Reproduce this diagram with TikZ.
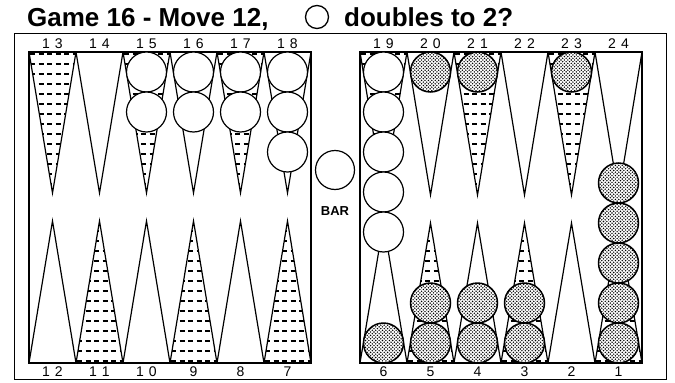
\documentclass[tikz,border=0pt]{standalone}
\usepackage{fontspec}
\setmainfont{Liberation Sans}
\usetikzlibrary{patterns}
\pgfdeclarepatternformonly{stip}{\pgfqpoint{-1pt}{-1pt}}{\pgfqpoint{4.4pt}{4.4pt}}{\pgfqpoint{3.4pt}{3.4pt}}{%
  \pgfpathcircle{\pgfqpoint{0pt}{0pt}}{0.8pt}%
  \pgfpathcircle{\pgfqpoint{1.7pt}{1.7pt}}{0.8pt}%
  \pgfusepath{fill}}
\tikzset{
  pt/.style={line width=1.2pt, line join=miter},
  stripe/.style={line width=1.7pt, dash pattern=on 5pt off 3.5pt, dash phase=-1pt},
  board/.style={line width=1.5pt},
  frame/.style={line width=0.9pt},
  wchk/.style={circle, draw, line width=1.2pt, fill=white, minimum size=40pt, inner sep=0pt},
  bchk/.style={circle, draw, line width=1.5pt, minimum size=40pt, inner sep=0pt,
    preaction={fill=white}, pattern=stip},
  lbl/.style={font=\fontsize{14}{14}\selectfont, inner sep=0pt, anchor=base},
  ttl/.style={font=\fontsize{26}{26}\selectfont\bfseries, inner sep=0pt, anchor=base west},
}
\begin{document}
\begin{tikzpicture}[x=1pt,y=-1pt]
\useasboundingbox (0,0) rectangle (675,383);
% title
\node[ttl] (t1) at (27,26) {Game 16 - Move 12,};
\node[circle, draw, line width=1.3pt, minimum size=23pt, inner sep=0pt] (tc) at (317,17) {};
\node[ttl] (t2) at (344,26) {doubles to 2?};
% outer frame
\draw[frame] (14,33) rectangle (666,379);
% top points
\foreach \x/\s/\ty in {29/1/193,76/0/193,123/1/193,170/0/193,217/1/193,264/0/193,
                       360/1/195,407/0/195,454/1/195,501/0/195,548/1/195,595/0/195} {
  \ifnum\s=1
    \begin{scope}
      \clip (\x,52) -- (\x+47,52) -- (\x+23.5,\ty) -- cycle;
      \foreach \yy in {54,64,...,194} \draw[stripe] (\x,\yy) -- (\x+47,\yy);
    \end{scope}
  \fi
  \draw[pt] (\x,52) -- (\x+23.5,\ty) -- (\x+47,52);
}
% bottom points
\foreach \x/\s/\ty in {29/0/221,76/1/221,123/0/221,170/1/221,217/0/221,264/1/221,
                       360/0/223,407/1/223,454/0/223,501/1/223,548/0/223,595/1/223} {
  \ifnum\s=1
    \begin{scope}
      \clip (\x,363) -- (\x+47,363) -- (\x+23.5,\ty) -- cycle;
      \foreach \yy in {361,351,...,221} \draw[stripe] (\x,\yy) -- (\x+47,\yy);
    \end{scope}
  \fi
  \draw[pt] (\x,363) -- (\x+23.5,\ty) -- (\x+47,363);
}
% boards
\draw[board] (29,52) rectangle (311,363);
\draw[board] (360,52) rectangle (642,363);
% point labels
\foreach \c/\n in {52.5/1\hspace{5pt}3,99.5/1\hspace{5pt}4,146.5/1\hspace{5pt}5,193.5/1\hspace{5pt}6,240.5/1\hspace{5pt}7,287.5/1\hspace{5pt}8,
                   383.5/1\hspace{5pt}9,430.5/2\hspace{5pt}0,477.5/2\hspace{5pt}1,524.5/2\hspace{5pt}2,571.5/2\hspace{5pt}3,618.5/2\hspace{5pt}4}
  \node[lbl] at (\c,48) {\n};
\foreach \c/\n in {52.5/1\hspace{5pt}2,99.5/1\hspace{5pt}1,146.5/1\hspace{5pt}0,193.5/9,240.5/8,287.5/7,
                   383.5/6,430.5/5,477.5/4,524.5/3,571.5/2,618.5/1}
  \node[lbl] at (\c,376) {\n};
% white checkers
\node[wchk] (w15a) at (146.5,72) {};
\node[wchk] (w15b) at (146.5,112) {};
\node[wchk] (w16a) at (193.5,72) {};
\node[wchk] (w16b) at (193.5,112) {};
\node[wchk] (w17a) at (240.5,72) {};
\node[wchk] (w17b) at (240.5,112) {};
\node[wchk] (w18a) at (287.5,72) {};
\node[wchk] (w18b) at (287.5,112) {};
\node[wchk] (w18c) at (287.5,152) {};
\node[wchk] (w19a) at (383.5,72) {};
\node[wchk] (w19b) at (383.5,112) {};
\node[wchk] (w19c) at (383.5,152) {};
\node[wchk] (w19d) at (383.5,192) {};
\node[wchk] (w19e) at (383.5,232) {};
\node[wchk, minimum size=39pt] (wbar) at (335,170) {};
\node[font=\fontsize{13}{13}\selectfont\bfseries, inner sep=0pt, anchor=base] (bar) at (335,215) {BAR};
% black checkers
\node[bchk] (b20) at (430.5,72) {};
\node[bchk] (b21) at (477.5,72) {};
\node[bchk] (b23) at (571.5,72) {};
\node[bchk] (b6) at (383.5,343) {};
\node[bchk] (b5a) at (430.5,343) {};
\node[bchk] (b5b) at (430.5,303) {};
\node[bchk] (b4a) at (477.5,343) {};
\node[bchk] (b4b) at (477.5,303) {};
\node[bchk] (b3a) at (524.5,343) {};
\node[bchk] (b3b) at (524.5,303) {};
\node[bchk] (b1a) at (618.5,343) {};
\node[bchk] (b1b) at (618.5,303) {};
\node[bchk] (b1c) at (618.5,263) {};
\node[bchk] (b1d) at (618.5,223) {};
\node[bchk] (b1e) at (618.5,183) {};
\end{tikzpicture}
\end{document}
